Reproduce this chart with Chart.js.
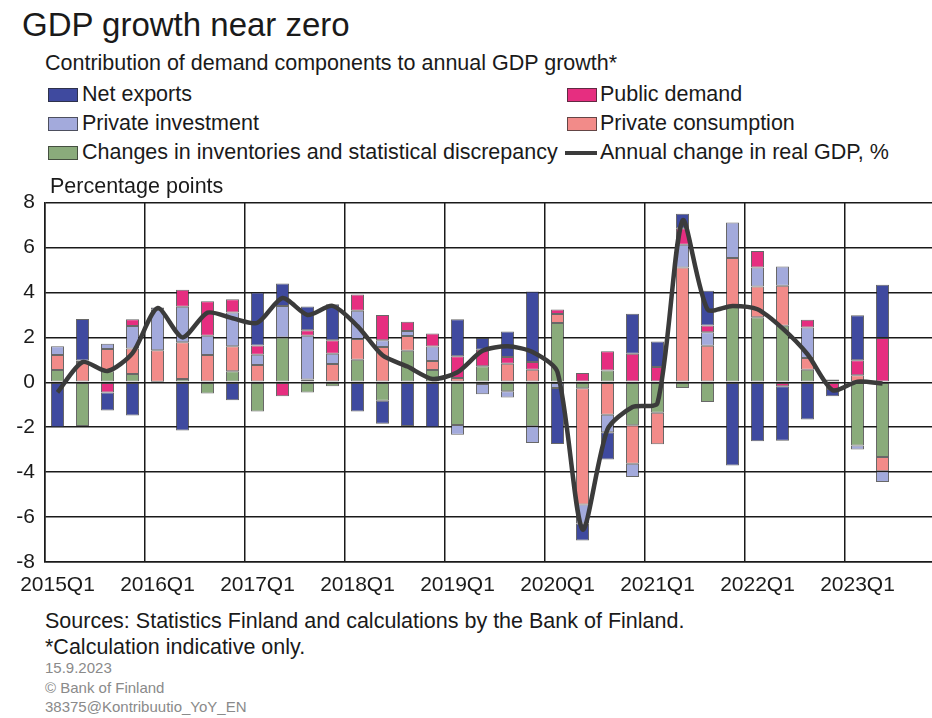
<!DOCTYPE html>
<html>
<head>
<meta charset="utf-8">
<script src="https://cdn.jsdelivr.net/npm/chart.js@4"></script>
<style>
  html, body { margin: 0; padding: 0; background: #fff; overflow: hidden; }
  body { width: 932px; height: 718px; position: relative; font-family: 'Liberation Sans', Arial, sans-serif; color: #1a1a1a; }
  .t { position: absolute; white-space: nowrap; line-height: 1; }
  .sw { position: absolute; width: 30px; height: 14px; box-sizing: border-box; border: 1px solid rgba(40,40,40,0.7); }
  .ln { position: absolute; width: 32px; height: 4px; background: #3b3b3b; }
  .gray { color: #8a8a8a; font-size: 15px; }
  #wrap { position: absolute; left: 0; top: 180px; width: 950px; height: 420px; }
</style>
</head>
<body>
<div class="t" style="left:22px;top:8px;font-size:33px">GDP growth near zero</div>
<div class="t" style="left:45px;top:53px;font-size:21.5px">Contribution of demand components to annual GDP growth*</div>

<div class="sw" style="left:48px;top:88px;background:#3f4a9f"></div>
<div class="t" style="left:82px;top:84px;font-size:21.5px">Net exports</div>
<div class="sw" style="left:567px;top:88px;background:#e62e80"></div>
<div class="t" style="left:600px;top:84px;font-size:21.5px">Public demand</div>

<div class="sw" style="left:48px;top:117px;background:#a3aadc"></div>
<div class="t" style="left:82px;top:113px;font-size:21.5px">Private investment</div>
<div class="sw" style="left:567px;top:117px;background:#f28b89"></div>
<div class="t" style="left:600px;top:113px;font-size:21.5px">Private consumption</div>

<div class="sw" style="left:48px;top:146px;background:#8aab7b"></div>
<div class="t" style="left:82px;top:142px;font-size:21.5px">Changes in inventories and statistical discrepancy</div>
<div class="ln" style="left:565px;top:151px"></div>
<div class="t" style="left:600px;top:142px;font-size:21.5px">Annual change in real GDP, %</div>

<div id="wrap"><canvas id="chart"></canvas></div>

<div class="t" style="left:50px;top:176px;font-size:21.5px">Percentage points</div>

<div class="t" style="left:45px;top:611px;font-size:21.5px">Sources: Statistics Finland and calculations by the Bank of Finland.</div>
<div class="t" style="left:45px;top:637px;font-size:21.5px">*Calculation indicative only.</div>
<div class="t gray" style="left:45px;top:660px">15.9.2023</div>
<div class="t gray" style="left:45px;top:680px">© Bank of Finland</div>
<div class="t gray" style="left:45px;top:699px">38375@Kontribuutio_YoY_EN</div>

<script>
// quarters 2015Q1 - 2023Q4 (data up to 2023Q2)
const quarters = [];
for (let y = 2015; y <= 2023; y++) {
    for (let q = 1; q <= 4; q++) quarters.push(y + 'Q' + q);
}

const inventories = [0.55, -1.95, 0.49, 0.37, 0.03, 0.15, -0.5, 0.49, -1.3, 2.0,
    -0.45, -0.18, 1.0, -0.82, 1.4, 0.55, -1.9, 0.71, -0.4, -1.96,
    2.64, -0.27, 0.53, -1.91, -1.36, -0.25, -0.88, 3.38, 2.9, 2.52,
    0.56, 0.12, -2.81, -3.32];
const privateConsumption = [0.67, 0.9, 0.99, 1.14, 1.4, 1.63, 1.21, 1.11, 0.77, 0,
    0.12, 0.81, 0.93, 1.57, 0.66, 0.4, 0.19, -0.08, 0.83, 0.56,
    0.4, -5.17, -1.44, -1.72, -1.4, 5.11, 1.63, 2.15, 1.37, 1.78,
    0.52, 0, 0.31, -0.64];
const privateInvestment = [0.39, 0.07, 0.24, 1.0, 1.8, 1.58, 0.86, 1.51, 0.46, 1.4,
    1.95, 0.46, 1.26, 0.3, 0.22, 0.64, -0.43, -0.45, -0.28, -0.74,
    -0.25, -0.85, -0.78, -0.59, 0, 1.01, 0.6, 1.58, 0.84, 0.86,
    1.36, 0, -0.18, -0.48];
const publicDemand = [0, 0, -0.45, 0.3, 0, 0.76, 1.54, 0.59, 0.41, -0.62,
    0.25, 0.6, 0.72, 1.13, 0.42, 0.58, 0.97, 0.74, 0.3, 0.34,
    0.2, 0.41, 0.85, 1.27, 0.68, 0.74, 0.3, 0, 0.74, -0.18,
    0.35, -0.3, 0.67, 1.97];
const netExports = [-2.0, 1.85, -0.8, -1.48, 0.1, -2.15, 0, -0.8, 2.36, 1.0,
    1.05, 1.61, -1.3, -1.03, -1.95, -2.0, 1.65, 0.52, 1.13, 3.14,
    -2.5, -0.75, -1.22, 1.78, 1.14, 0.64, 1.55, -3.7, -2.62, -2.42,
    -1.66, -0.32, 2.0, 2.37];
const gdpGrowth = [-0.45, 0.9, 0.5, 1.3, 3.3, 2.0, 3.1, 2.85, 2.65, 3.75,
    3.0, 3.4, 2.5, 1.2, 0.7, 0.15, 0.45, 1.4, 1.6, 1.35,
    0.45, -6.55, -2.1, -1.1, -0.92, 7.2, 3.25, 3.4, 3.25, 2.4,
    1.25, -0.35, 0.03, -0.05];

const yTicks = [-8, -6, -4, -2, 0, 2, 4, 6, 8];

const FONT = "'Liberation Sans', Arial, sans-serif";
const GRID = '#1a1a1a';

function barSet(label, data, color) {
    return {
        type: 'bar',
        label: label,
        data: data,
        backgroundColor: color,
        borderColor: 'rgba(40,40,40,0.7)',
        borderWidth: 1,
        borderSkipped: false,
        barPercentage: 0.52,
        categoryPercentage: 1,
        stack: 'c',
        order: 1
    };
}

new Chart(document.getElementById('chart'), {
    data: {
        labels: quarters,
        datasets: [
            {
                type: 'line',
                label: 'Annual change in real GDP, %',
                data: gdpGrowth,
                borderColor: '#3b3b3b',
                borderWidth: 4.5,
                pointRadius: 0,
                tension: 0.25,
                fill: false,
                stack: 'gdp',
                order: 0
            },
            // stacking order from zero outward
            barSet('Changes in inventories and statistical discrepancy', inventories, '#8aab7b'),
            barSet('Private consumption', privateConsumption, '#f28b89'),
            barSet('Private investment', privateInvestment, '#a3aadc'),
            barSet('Public demand', publicDemand, '#e62e80'),
            barSet('Net exports', netExports, '#3f4a9f')
        ]
    },
    options: {
        responsive: true,
        maintainAspectRatio: false,
        animation: false,
        devicePixelRatio: 1,
        layout: { padding: { top: 7, right: 5, left: 0, bottom: 0 } },
        plugins: {
            legend: { display: false },
            tooltip: { enabled: false }
        },
        scales: {
            x: {
                stacked: true,
                offset: true,
                grid: {
                    offset: true,
                    drawTicks: false,
                    lineWidth: 1.5,
                    color: (ctx) => ctx.index % 4 === 0 ? GRID : 'rgba(0,0,0,0)'
                },
                border: { display: true, color: GRID, width: 1.5 },
                ticks: {
                    autoSkip: false,
                    maxRotation: 0,
                    padding: 11,
                    color: '#1a1a1a',
                    font: { family: FONT, size: 21 },
                    callback: (v, i) => i % 4 === 0 ? quarters[i] : ''
                },
                afterFit: (s) => { s.height = 38; }
            },
            y: {
                stacked: true,
                min: -8,
                max: 8,
                afterBuildTicks: (s) => { s.ticks = yTicks.map(v => ({ value: v })); },
                grid: { drawTicks: false, lineWidth: 1.5, color: GRID },
                border: { display: true, color: GRID, width: 1.5 },
                ticks: {
                    padding: 10,
                    color: '#1a1a1a',
                    font: { family: FONT, size: 21 }
                },
                afterFit: (s) => { s.width = 45; }
            }
        }
    }
});
</script>
</body>
</html>
